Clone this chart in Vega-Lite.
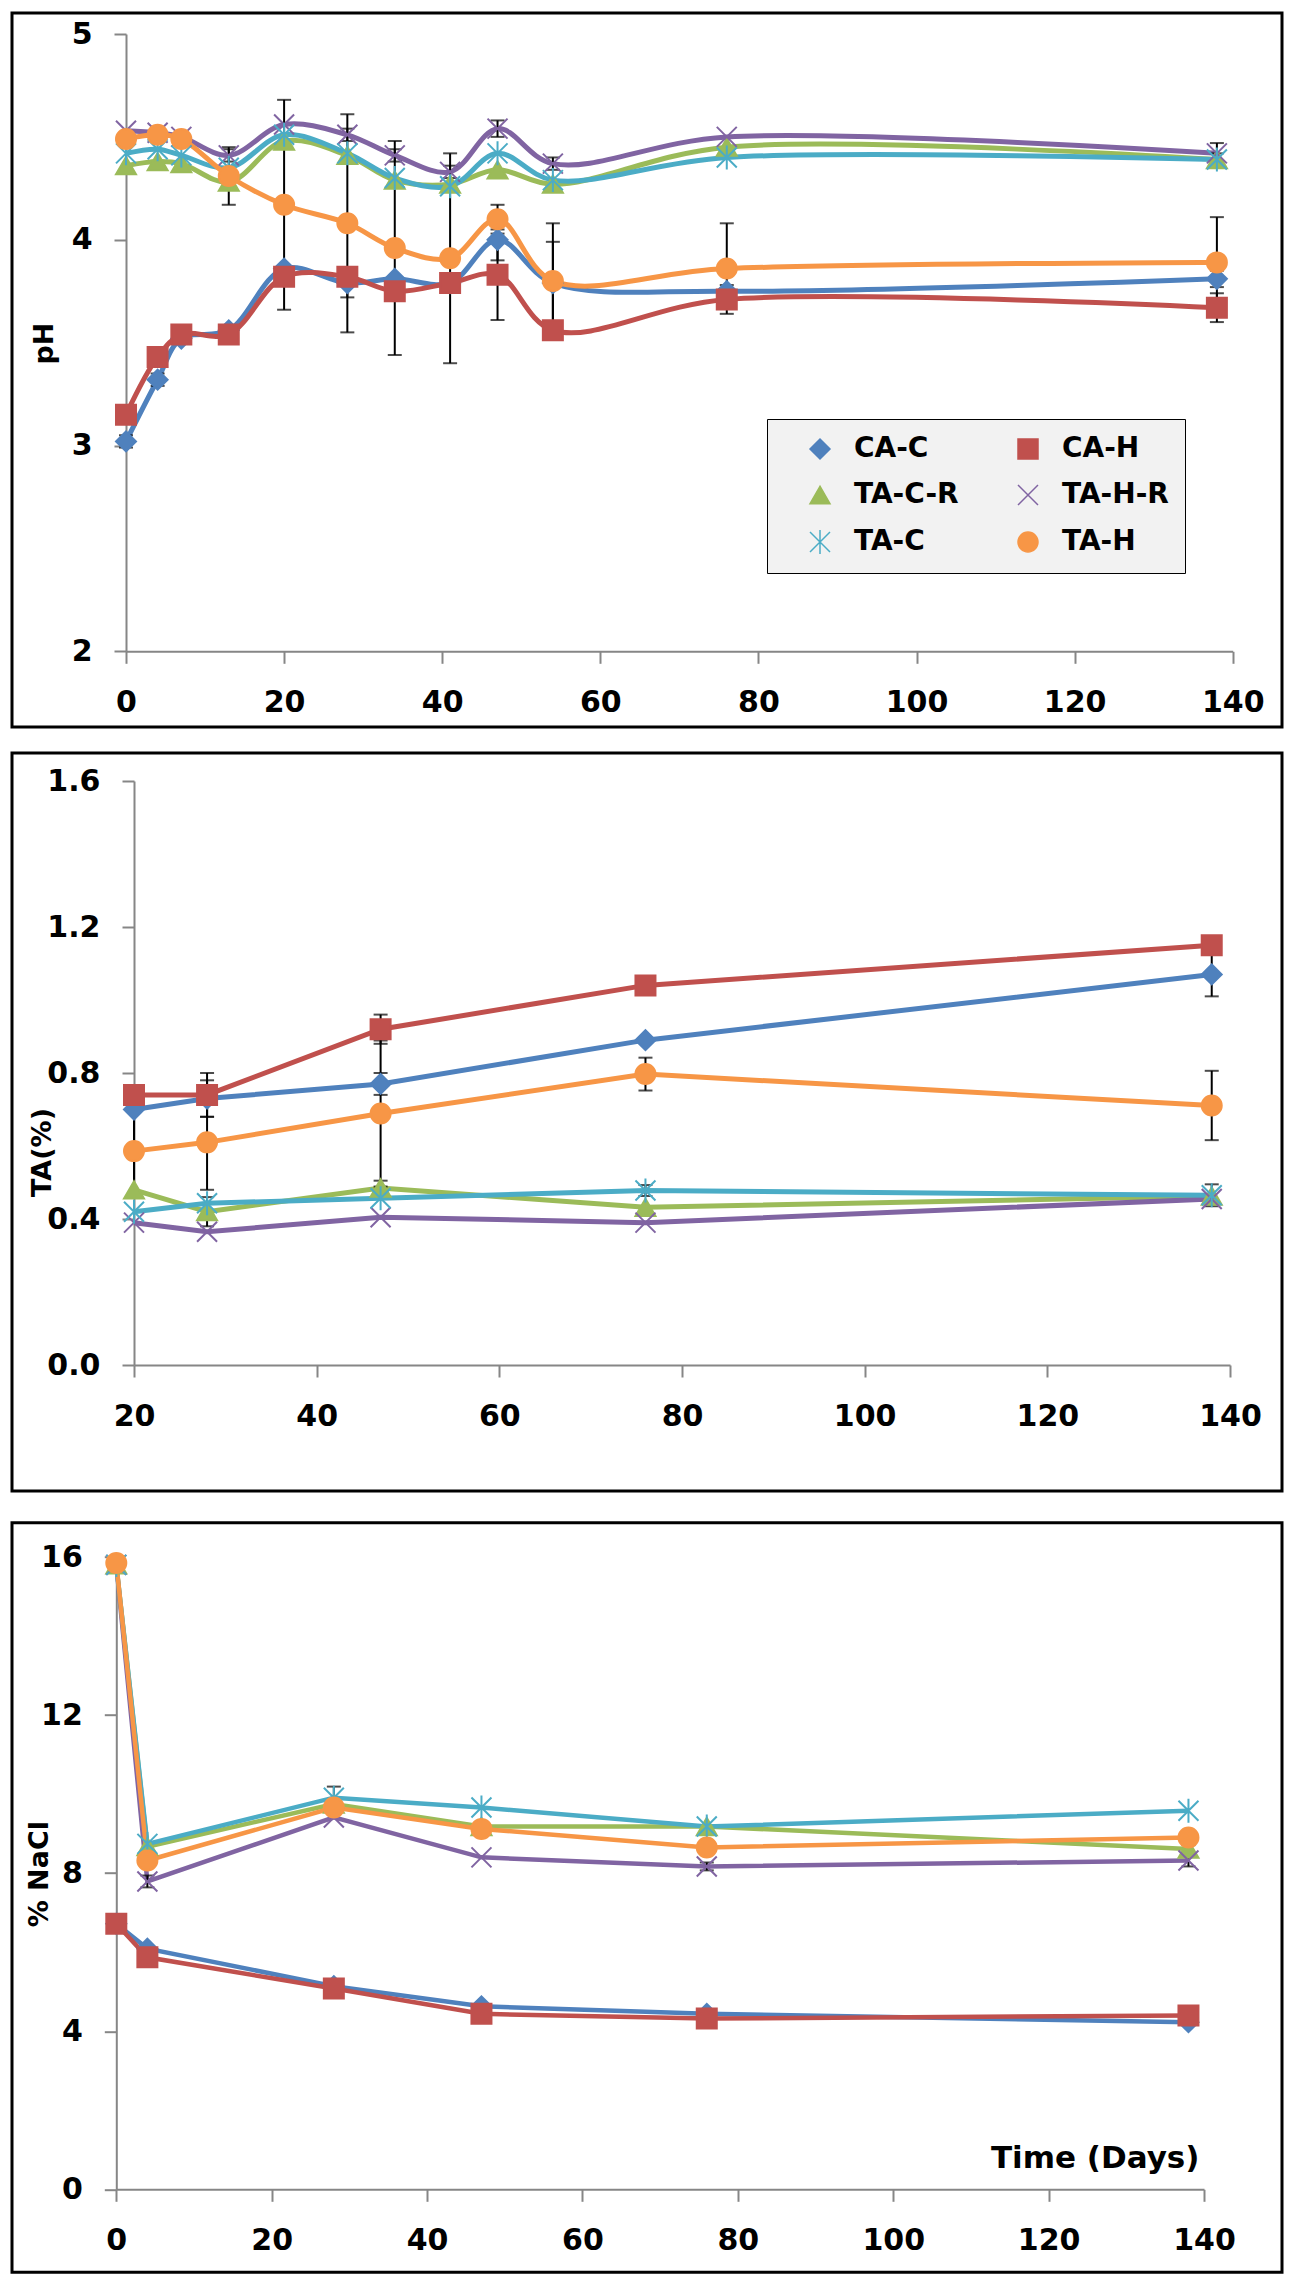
{
  "$schema": "https://vega.github.io/schema/vega-lite/v6.json",
  "padding": {"left": 10, "top": 11, "right": 0, "bottom": 0},
  "bounds": "flush",
  "spacing": 26,
  "config": {
    "view": {"stroke": "black", "strokeWidth": 3},
    "font": "DejaVu Sans",
    "axis": {
      "grid": false,
      "domainColor": "#868686", "domainWidth": 2,
      "tickColor": "#868686", "tickWidth": 2, "tickSize": 12,
      "labelFont": "DejaVu Sans", "labelFontSize": 30, "labelFontWeight": "bold", "labelColor": "black",
      "labelFlush": false, "labelOverlap": false, "labelBound": false,
      "titleFont": "DejaVu Sans", "titleFontSize": 27, "titleFontWeight": "bold", "titleColor": "black"
    },
    "axisX": {"labelPadding": 24},
    "axisY": {"labelPadding": 22}
  },
  "datasets": {
    "ph": [
      {"s": "CA-C", "d": 0, "v": 3.02, "e": 0.03}, {"s": "CA-C", "d": 4, "v": 3.32, "e": 0.03}, {"s": "CA-C", "d": 7, "v": 3.52, "e": 0}, {"s": "CA-C", "d": 13, "v": 3.56, "e": 0}, {"s": "CA-C", "d": 20, "v": 3.86, "e": 0}, {"s": "CA-C", "d": 28, "v": 3.79, "e": 0.07}, {"s": "CA-C", "d": 34, "v": 3.81, "e": 0}, {"s": "CA-C", "d": 41, "v": 3.79, "e": 0}, {"s": "CA-C", "d": 47, "v": 4.0, "e": 0.1}, {"s": "CA-C", "d": 54, "v": 3.79, "e": 0.2}, {"s": "CA-C", "d": 76, "v": 3.75, "e": 0.03}, {"s": "CA-C", "d": 138, "v": 3.81, "e": 0.04},
      {"s": "CA-H", "d": 0, "v": 3.15, "e": 0}, {"s": "CA-H", "d": 4, "v": 3.43, "e": 0}, {"s": "CA-H", "d": 7, "v": 3.54, "e": 0}, {"s": "CA-H", "d": 13, "v": 3.54, "e": 0}, {"s": "CA-H", "d": 20, "v": 3.82, "e": 0}, {"s": "CA-H", "d": 28, "v": 3.82, "e": 0}, {"s": "CA-H", "d": 34, "v": 3.75, "e": 0}, {"s": "CA-H", "d": 41, "v": 3.79, "e": 0}, {"s": "CA-H", "d": 47, "v": 3.83, "e": 0.22}, {"s": "CA-H", "d": 54, "v": 3.56, "e": 0}, {"s": "CA-H", "d": 76, "v": 3.71, "e": 0.04}, {"s": "CA-H", "d": 138, "v": 3.67, "e": 0.07},
      {"s": "TA-C-R", "d": 0, "v": 4.36, "e": 0}, {"s": "TA-C-R", "d": 4, "v": 4.38, "e": 0}, {"s": "TA-C-R", "d": 7, "v": 4.37, "e": 0}, {"s": "TA-C-R", "d": 13, "v": 4.28, "e": 0}, {"s": "TA-C-R", "d": 20, "v": 4.48, "e": 0}, {"s": "TA-C-R", "d": 28, "v": 4.41, "e": 0}, {"s": "TA-C-R", "d": 34, "v": 4.29, "e": 0}, {"s": "TA-C-R", "d": 41, "v": 4.27, "e": 0}, {"s": "TA-C-R", "d": 47, "v": 4.34, "e": 0}, {"s": "TA-C-R", "d": 54, "v": 4.27, "e": 0}, {"s": "TA-C-R", "d": 76, "v": 4.45, "e": 0}, {"s": "TA-C-R", "d": 138, "v": 4.39, "e": 0.03},
      {"s": "TA-H-R", "d": 0, "v": 4.53, "e": 0}, {"s": "TA-H-R", "d": 4, "v": 4.52, "e": 0}, {"s": "TA-H-R", "d": 7, "v": 4.5, "e": 0}, {"s": "TA-H-R", "d": 13, "v": 4.41, "e": 0.03}, {"s": "TA-H-R", "d": 20, "v": 4.56, "e": 0}, {"s": "TA-H-R", "d": 28, "v": 4.51, "e": 0.03}, {"s": "TA-H-R", "d": 34, "v": 4.41, "e": 0.03}, {"s": "TA-H-R", "d": 41, "v": 4.33, "e": 0.03}, {"s": "TA-H-R", "d": 47, "v": 4.54, "e": 0.04}, {"s": "TA-H-R", "d": 54, "v": 4.37, "e": 0.03}, {"s": "TA-H-R", "d": 76, "v": 4.5, "e": 0}, {"s": "TA-H-R", "d": 138, "v": 4.42, "e": 0.05},
      {"s": "TA-C", "d": 0, "v": 4.42, "e": 0}, {"s": "TA-C", "d": 4, "v": 4.44, "e": 0}, {"s": "TA-C", "d": 7, "v": 4.41, "e": 0}, {"s": "TA-C", "d": 13, "v": 4.35, "e": 0}, {"s": "TA-C", "d": 20, "v": 4.51, "e": 0}, {"s": "TA-C", "d": 28, "v": 4.42, "e": 0}, {"s": "TA-C", "d": 34, "v": 4.3, "e": 0}, {"s": "TA-C", "d": 41, "v": 4.26, "e": 0}, {"s": "TA-C", "d": 47, "v": 4.42, "e": 0}, {"s": "TA-C", "d": 54, "v": 4.29, "e": 0}, {"s": "TA-C", "d": 76, "v": 4.4, "e": 0}, {"s": "TA-C", "d": 138, "v": 4.39, "e": 0},
      {"s": "TA-H", "d": 0, "v": 4.49, "e": 0}, {"s": "TA-H", "d": 4, "v": 4.51, "e": 0}, {"s": "TA-H", "d": 7, "v": 4.49, "e": 0}, {"s": "TA-H", "d": 13, "v": 4.31, "e": 0.14}, {"s": "TA-H", "d": 20, "v": 4.17, "e": 0.51}, {"s": "TA-H", "d": 28, "v": 4.08, "e": 0.53}, {"s": "TA-H", "d": 34, "v": 3.96, "e": 0.52}, {"s": "TA-H", "d": 41, "v": 3.91, "e": 0.51}, {"s": "TA-H", "d": 47, "v": 4.1, "e": 0.07}, {"s": "TA-H", "d": 54, "v": 3.8, "e": 0.28}, {"s": "TA-H", "d": 76, "v": 3.86, "e": 0.22}, {"s": "TA-H", "d": 138, "v": 3.89, "e": 0.22}
    ],
    "ta": [
      {"s": "CA-C", "d": 20, "v": 0.7, "e": 0}, {"s": "CA-C", "d": 28, "v": 0.73, "e": 0.05}, {"s": "CA-C", "d": 47, "v": 0.77, "e": 0.03}, {"s": "CA-C", "d": 76, "v": 0.89, "e": 0}, {"s": "CA-C", "d": 138, "v": 1.07, "e": 0.06},
      {"s": "CA-H", "d": 20, "v": 0.74, "e": 0}, {"s": "CA-H", "d": 28, "v": 0.74, "e": 0.06}, {"s": "CA-H", "d": 47, "v": 0.92, "e": 0.04}, {"s": "CA-H", "d": 76, "v": 1.04, "e": 0}, {"s": "CA-H", "d": 138, "v": 1.15, "e": 0},
      {"s": "TA-C-R", "d": 20, "v": 0.48, "e": 0}, {"s": "TA-C-R", "d": 28, "v": 0.42, "e": 0.04}, {"s": "TA-C-R", "d": 47, "v": 0.485, "e": 0.02}, {"s": "TA-C-R", "d": 76, "v": 0.432, "e": 0}, {"s": "TA-C-R", "d": 138, "v": 0.463, "e": 0},
      {"s": "TA-H-R", "d": 20, "v": 0.39, "e": 0}, {"s": "TA-H-R", "d": 28, "v": 0.365, "e": 0}, {"s": "TA-H-R", "d": 47, "v": 0.405, "e": 0}, {"s": "TA-H-R", "d": 76, "v": 0.39, "e": 0}, {"s": "TA-H-R", "d": 138, "v": 0.455, "e": 0},
      {"s": "TA-C", "d": 20, "v": 0.42, "e": 0}, {"s": "TA-C", "d": 28, "v": 0.443, "e": 0}, {"s": "TA-C", "d": 47, "v": 0.457, "e": 0}, {"s": "TA-C", "d": 76, "v": 0.478, "e": 0.015}, {"s": "TA-C", "d": 138, "v": 0.465, "e": 0.03},
      {"s": "TA-H", "d": 20, "v": 0.586, "e": 0.12}, {"s": "TA-H", "d": 28, "v": 0.61, "e": 0.13}, {"s": "TA-H", "d": 47, "v": 0.689, "e": 0.2}, {"s": "TA-H", "d": 76, "v": 0.797, "e": 0.045}, {"s": "TA-H", "d": 138, "v": 0.711, "e": 0.095}
    ],
    "nacl": [
      {"s": "CA-C", "d": 0, "v": 6.72, "e": 0}, {"s": "CA-C", "d": 4, "v": 6.09, "e": 0}, {"s": "CA-C", "d": 28, "v": 5.14, "e": 0}, {"s": "CA-C", "d": 47, "v": 4.63, "e": 0}, {"s": "CA-C", "d": 76, "v": 4.44, "e": 0}, {"s": "CA-C", "d": 138, "v": 4.23, "e": 0},
      {"s": "CA-H", "d": 0, "v": 6.72, "e": 0}, {"s": "CA-H", "d": 4, "v": 5.87, "e": 0}, {"s": "CA-H", "d": 28, "v": 5.08, "e": 0}, {"s": "CA-H", "d": 47, "v": 4.44, "e": 0}, {"s": "CA-H", "d": 76, "v": 4.32, "e": 0}, {"s": "CA-H", "d": 138, "v": 4.4, "e": 0},
      {"s": "TA-C-R", "d": 0, "v": 15.8, "e": 0}, {"s": "TA-C-R", "d": 4, "v": 8.67, "e": 0}, {"s": "TA-C-R", "d": 28, "v": 9.75, "e": 0}, {"s": "TA-C-R", "d": 47, "v": 9.18, "e": 0}, {"s": "TA-C-R", "d": 76, "v": 9.18, "e": 0}, {"s": "TA-C-R", "d": 138, "v": 8.61, "e": 0.1},
      {"s": "TA-H-R", "d": 0, "v": 15.8, "e": 0}, {"s": "TA-H-R", "d": 4, "v": 7.79, "e": 0.15}, {"s": "TA-H-R", "d": 28, "v": 9.41, "e": 0}, {"s": "TA-H-R", "d": 47, "v": 8.4, "e": 0}, {"s": "TA-H-R", "d": 76, "v": 8.17, "e": 0.1}, {"s": "TA-H-R", "d": 138, "v": 8.32, "e": 0.15},
      {"s": "TA-C", "d": 0, "v": 15.8, "e": 0}, {"s": "TA-C", "d": 4, "v": 8.74, "e": 0}, {"s": "TA-C", "d": 28, "v": 9.91, "e": 0.28}, {"s": "TA-C", "d": 47, "v": 9.66, "e": 0}, {"s": "TA-C", "d": 76, "v": 9.18, "e": 0}, {"s": "TA-C", "d": 138, "v": 9.58, "e": 0},
      {"s": "TA-H", "d": 0, "v": 15.85, "e": 0}, {"s": "TA-H", "d": 4, "v": 8.32, "e": 0}, {"s": "TA-H", "d": 28, "v": 9.66, "e": 0}, {"s": "TA-H", "d": 47, "v": 9.12, "e": 0}, {"s": "TA-H", "d": 76, "v": 8.65, "e": 0}, {"s": "TA-H", "d": 138, "v": 8.9, "e": 0}
    ]
  },
  "resolve": {"scale": {"x": "independent", "y": "independent", "color": "independent", "fill": "independent", "stroke": "independent", "shape": "independent"}},
  "vconcat": [
    {
      "width": 1270,
      "height": 714,
      "data": {"name": "ph"},
      "encoding": {
        "x": {"field": "d", "type": "quantitative", "scale": {"domain": [0, 140], "range": [114, 1220.7], "nice": false, "zero": false}, "axis": {"values": [0, 20, 40, 60, 80, 100, 120, 140], "format": "d", "title": null, "offset": -75.7}},
        "y": {"field": "v", "type": "quantitative", "scale": {"domain": [2, 5], "range": [638.3, 21], "nice": false, "zero": false}, "axis": {"values": [2, 3, 4, 5], "format": "d", "title": "pH", "offset": -114, "titleX": -82, "titleY": 330, "titleAngle": 270, "titleAlign": "center", "titleBaseline": "middle"}}
      },
      "layer": [
        {
          "mark": {"type": "line", "interpolate": "catmull-rom", "strokeWidth": 5},
          "encoding": {"color": {"field": "s", "type": "nominal", "scale": {"domain": ["CA-C", "CA-H", "TA-C-R", "TA-H-R", "TA-C", "TA-H"], "range": ["#4F81BD", "#C0504D", "#9BBB59", "#8064A2", "#4BACC6", "#F79646"]}}}
        },
        {
          "transform": [{"filter": "datum.e > 0"}],
          "mark": {"type": "errorbar", "ticks": {"size": 14, "thickness": 2, "color": "black"}, "rule": {"strokeWidth": 2, "color": "black"}},
          "encoding": {"yError": {"field": "e"}}
        },
        {
          "mark": {"type": "point", "filled": true, "size": 400, "strokeWidth": 2, "opacity": 1},
          "encoding": {
            "fill": {"field": "s", "type": "nominal", "scale": {"domain": ["CA-C", "CA-H", "TA-C-R", "TA-H-R", "TA-C", "TA-H"], "range": ["#4F81BD", "#C0504D", "#9BBB59", "#8064A2", "#4BACC6", "#F79646"]},
              "legend": {
                "orient": "none", "legendX": 755, "legendY": 406, "title": null, "columns": 2, "direction": "horizontal",
                "fillColor": "#f2f2f2", "strokeColor": "black",
                "padding": 16, "rowPadding": 18, "columnPadding": 32,
                "symbolSize": 400, "symbolOffset": 23, "labelOffset": 20,
                "labelFont": "DejaVu Sans", "labelFontSize": 28, "labelFontWeight": "bold", "labelColor": "black",
                "encode": {
                  "legend": {"strokeWidth": {"value": 2}}
                }
              }},
            "stroke": {"field": "s", "type": "nominal", "scale": {"domain": ["CA-C", "CA-H", "TA-C-R", "TA-H-R", "TA-C", "TA-H"], "range": ["#4F81BD", "#C0504D", "#9BBB59", "#8064A2", "#4BACC6", "#F79646"]}},
            "shape": {"field": "s", "type": "nominal", "scale": {"domain": ["CA-C", "CA-H", "TA-C-R", "TA-H-R", "TA-C", "TA-H"], "range": ["diamond", "square", "triangle-up", "M-1,-1L1,1M-1,1L1,-1", "M-1,-1L1,1M-1,1L1,-1M0,-1.2L0,1.2", "circle"]}}
          }
        }
      ]
    },
    {
      "spacing": 31.7,
      "bounds": "flush",
      "resolve": {"scale": {"x": "independent", "y": "independent", "color": "independent", "fill": "independent", "stroke": "independent", "shape": "independent"}},
      "vconcat": [
        {
          "width": 1270,
          "height": 738,
          "data": {"name": "ta"},
          "encoding": {
            "x": {"field": "d", "type": "quantitative", "scale": {"domain": [20, 140], "range": [122, 1218], "nice": false, "zero": false}, "axis": {"values": [20, 40, 60, 80, 100, 120, 140], "format": "d", "title": null, "offset": -126}},
            "y": {"field": "v", "type": "quantitative", "scale": {"domain": [0, 1.6], "range": [612, 28], "nice": false, "zero": false}, "axis": {"values": [0, 0.4, 0.8, 1.2, 1.6], "format": ".1f", "title": "TA(%)", "offset": -122, "titleX": -92, "titleY": 399, "titleAngle": 270, "titleAlign": "center", "titleBaseline": "middle"}}
          },
          "layer": [
            {
              "mark": {"type": "line", "strokeWidth": 5},
              "encoding": {"color": {"field": "s", "type": "nominal", "scale": {"domain": ["CA-C", "CA-H", "TA-C-R", "TA-H-R", "TA-C", "TA-H"], "range": ["#4F81BD", "#C0504D", "#9BBB59", "#8064A2", "#4BACC6", "#F79646"]}, "legend": null}}
            },
            {
              "transform": [{"filter": "datum.e > 0"}],
              "mark": {"type": "errorbar", "ticks": {"size": 14, "thickness": 2, "color": "black"}, "rule": {"strokeWidth": 2, "color": "black"}},
              "encoding": {"yError": {"field": "e"}}
            },
            {
              "mark": {"type": "point", "filled": true, "size": 400, "strokeWidth": 2, "opacity": 1},
              "encoding": {
                "fill": {"field": "s", "type": "nominal", "scale": {"domain": ["CA-C", "CA-H", "TA-C-R", "TA-H-R", "TA-C", "TA-H"], "range": ["#4F81BD", "#C0504D", "#9BBB59", "#8064A2", "#4BACC6", "#F79646"]}, "legend": null},
                "stroke": {"field": "s", "type": "nominal", "scale": {"domain": ["CA-C", "CA-H", "TA-C-R", "TA-H-R", "TA-C", "TA-H"], "range": ["#4F81BD", "#C0504D", "#9BBB59", "#8064A2", "#4BACC6", "#F79646"]}, "legend": null},
                "shape": {"field": "s", "type": "nominal", "scale": {"domain": ["CA-C", "CA-H", "TA-C-R", "TA-H-R", "TA-C", "TA-H"], "range": ["diamond", "square", "triangle-up", "M-1,-1L1,1M-1,1L1,-1", "M-1,-1L1,1M-1,1L1,-1M0,-1.2L0,1.2", "circle"]}, "legend": null}
              }
            }
          ]
        },
        {
          "width": 1270,
          "height": 749.5,
          "data": {"name": "nacl"},
          "encoding": {
            "x": {"field": "d", "type": "quantitative", "scale": {"domain": [0, 140], "range": [104.3, 1192], "nice": false, "zero": false}, "axis": {"values": [0, 20, 40, 60, 80, 100, 120, 140], "format": "d", "title": "Time (Days)", "offset": -82.9, "titleX": 1187, "titleY": -31, "titleAlign": "right", "titleBaseline": "middle", "titleFontSize": 31}},
            "y": {"field": "v", "type": "quantitative", "scale": {"domain": [0, 16], "range": [666.6, 34.3], "nice": false, "zero": false}, "axis": {"values": [0, 4, 8, 12, 16], "format": "d", "title": "% NaCl", "offset": -104.3, "titleX": -77, "titleY": 351, "titleAngle": 270, "titleAlign": "center", "titleBaseline": "middle"}}
          },
          "layer": [
            {
              "mark": {"type": "line", "strokeWidth": 4.5},
              "encoding": {"color": {"field": "s", "type": "nominal", "scale": {"domain": ["CA-C", "CA-H", "TA-C-R", "TA-H-R", "TA-C", "TA-H"], "range": ["#4F81BD", "#C0504D", "#9BBB59", "#8064A2", "#4BACC6", "#F79646"]}, "legend": null}}
            },
            {
              "transform": [{"filter": "datum.e > 0"}],
              "mark": {"type": "errorbar", "ticks": {"size": 14, "thickness": 2, "color": "black"}, "rule": {"strokeWidth": 2, "color": "black"}},
              "encoding": {"yError": {"field": "e"}}
            },
            {
              "mark": {"type": "point", "filled": true, "size": 400, "strokeWidth": 2, "opacity": 1},
              "encoding": {
                "fill": {"field": "s", "type": "nominal", "scale": {"domain": ["CA-C", "CA-H", "TA-C-R", "TA-H-R", "TA-C", "TA-H"], "range": ["#4F81BD", "#C0504D", "#9BBB59", "#8064A2", "#4BACC6", "#F79646"]}, "legend": null},
                "stroke": {"field": "s", "type": "nominal", "scale": {"domain": ["CA-C", "CA-H", "TA-C-R", "TA-H-R", "TA-C", "TA-H"], "range": ["#4F81BD", "#C0504D", "#9BBB59", "#8064A2", "#4BACC6", "#F79646"]}, "legend": null},
                "shape": {"field": "s", "type": "nominal", "scale": {"domain": ["CA-C", "CA-H", "TA-C-R", "TA-H-R", "TA-C", "TA-H"], "range": ["diamond", "square", "triangle-up", "M-1,-1L1,1M-1,1L1,-1", "M-1,-1L1,1M-1,1L1,-1M0,-1.2L0,1.2", "circle"]}, "legend": null}
              }
            }
          ]
        }
      ]
    }
  ]
}
